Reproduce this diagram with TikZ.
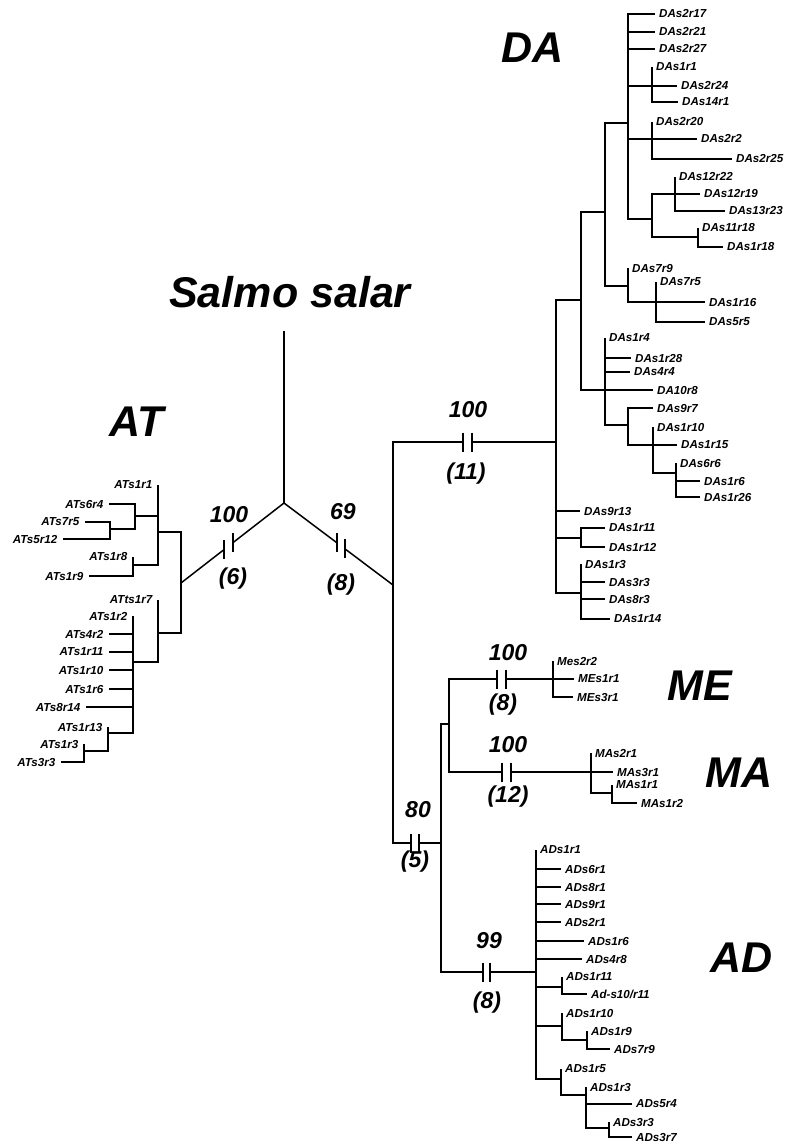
\documentclass[tikz,border=0pt]{standalone}
\usepackage{fontspec}
\setmainfont{Liberation Sans}
\usetikzlibrary{calc}
\newcommand\Clade[3]{\coordinate (#1) at (#2); \draw[br] (#3) |- (#1);}
\newcommand\LeafR[4]{\coordinate (#1) at (#2); \draw[br] (#3) |- (#1); \node[lfr] (#1l) at (#1) {#4};}
\newcommand\LeafL[4]{\coordinate (#1) at (#2); \draw[br] (#3) |- (#1); \node[lfl] (#1l) at (#1) {#4};}
\newcommand\Brk[1]{\draw[br] (#1) ++(0,-9.5) -- ++(0,19);}
\begin{document}
\begin{tikzpicture}[x=1pt,y=-1pt,
  br/.style={line width=1.5pt},
  lfr/.style={anchor=west,inner sep=0pt,xshift=4pt,font=\fontsize{11.6}{12}\selectfont\bfseries\itshape},
  lfl/.style={anchor=east,inner sep=0pt,xshift=-5.5pt,font=\fontsize{11.6}{12}\selectfont\bfseries\itshape},
  bs/.style={inner sep=0pt,font=\fontsize{23}{25}\selectfont\bfseries\itshape},
  big/.style={inner sep=0pt,font=\fontsize{43}{45}\selectfont\bfseries\itshape}]
\useasboundingbox (0,0) rectangle (785,1144);

% ---- root ----
\coordinate (root) at (284,503);
\coordinate (sstop) at (284,331);
\draw[br] (root) -- (sstop);
\node[big] (sslab) at (290,292) {Salmo salar};

% ---- AT branch ----
\coordinate (rAT) at (181,583);
\path (root) -- (rAT) coordinate[pos=0.495] (atb1) coordinate[pos=0.583] (atb2);
\draw[br] (root) -- (atb1); \draw[br] (atb2) -- (rAT);
\Brk{atb1}\Brk{atb2}
\node[bs] (bsAT) at (229,515) {100};
\node[bs] (chAT) at (233,579) {(6)};

% ---- right branch ----
\coordinate (n1) at (393,585);
\path (root) -- (n1) coordinate[pos=0.486] (rb1) coordinate[pos=0.56] (rb2);
\draw[br] (root) -- (rb1); \draw[br] (rb2) -- (n1);
\Brk{rb1}\Brk{rb2}
\node[bs] (bsR) at (343,512) {69};
\node[bs] (chR) at (341,585) {(8)};

% ---- DA branch ----
\coordinate (dab1) at (463,442); \coordinate (dab2) at (472,442);
\coordinate (rDA) at (556,442);
\draw[br] (n1) |- (dab1); \draw[br] (dab2) -- (rDA);
\Brk{dab1}\Brk{dab2}
\node[bs] (bsDA) at (468,410) {100};
\node[bs] (chDA) at (466,474) {(11)};

% ---- 80 branch ----
\coordinate (b80a) at (411,843); \coordinate (b80b) at (419,843);
\coordinate (n80) at (441,843);
\draw[br] (n1) |- (b80a); \draw[br] (b80b) -- (n80);
\Brk{b80a}\Brk{b80b}
\node[bs] (bs80) at (418,810) {80};
\node[bs] (ch80) at (415,862) {(5)};

\Clade{nmm}{449,724}{n80}
% ME
\coordinate (me1) at (497,679); \coordinate (me2) at (506,679);
\coordinate (rME) at (553,679);
\draw[br] (nmm) |- (me1); \draw[br] (me2) -- (rME);
\Brk{me1}\Brk{me2}
\node[bs] (bsME) at (508,653) {100};
\node[bs] (chME) at (503,705) {(8)};
% MA
\coordinate (ma1) at (502,772); \coordinate (ma2) at (511,772);
\coordinate (rMA) at (591,772);
\draw[br] (nmm) |- (ma1); \draw[br] (ma2) -- (rMA);
\Brk{ma1}\Brk{ma2}
\node[bs] (bsMA) at (508,745) {100};
\node[bs] (chMA) at (508,797) {(12)};
% AD
\coordinate (ad1) at (483,972); \coordinate (ad2) at (490,972);
\coordinate (rAD) at (536,972);
\draw[br] (n80) |- (ad1); \draw[br] (ad2) -- (rAD);
\Brk{ad1}\Brk{ad2}
\node[bs] (bsAD) at (489,941) {99};
\node[bs] (chAD) at (487,1003) {(8)};

% ---- group labels ----
\node[big] (gDA) at (533,48) {DA};
\node[big] (gAT) at (137,422) {AT};
\node[big] (gME) at (700,686) {ME};
\node[big] (gMA) at (739,773) {MA};
\node[big] (gAD) at (742,958) {AD};

% ---- AT clade ----
\Clade{atH}{158,532}{rAT}
\LeafL{ATs1r1}{158,485}{atH}{ATs1r1}
\Clade{atI}{135,516}{atH}
\LeafL{ATs6r4}{109,504}{atI}{ATs6r4}
\Clade{atJ}{110,529}{atI}
\LeafL{ATs7r5}{85,522}{atJ}{ATs7r5}
\LeafL{ATs5r12}{63,539}{atJ}{ATs5r12}
\Clade{atK}{133,565}{atH}
\LeafL{ATs1r8}{133,557}{atK}{ATs1r8}
\LeafL{ATs1r9}{89,576}{atK}{ATs1r9}
\Clade{atL}{158,633}{rAT}
\LeafL{ATts1r7}{158,600}{atL}{ATts1r7}
\Clade{atM}{133,662}{atL}
\LeafL{ATs1r2}{133,616}{atM}{ATs1r2}
\LeafL{ATs4r2}{109,634}{atM}{ATs4r2}
\LeafL{ATs1r11}{109,652}{atM}{ATs1r11}
\LeafL{ATs1r10}{109,670}{atM}{ATs1r10}
\LeafL{ATs1r6}{109,689}{atM}{ATs1r6}
\LeafL{ATs8r14}{86,707}{atM}{ATs8r14}
\Clade{atN}{108,733}{atM}
\LeafL{ATs1r13}{108,727}{atN}{ATs1r13}
\Clade{atO}{84,751}{atN}
\LeafL{ATs1r3}{84,744}{atO}{ATs1r3}
\LeafL{ATs3r3}{61,762}{atO}{ATs3r3}

% ---- DA clade ----
\Clade{daC}{581,300}{rDA}
\LeafR{DAs9r13}{580,511}{rDA}{DAs9r13}
\Clade{daP}{581,538}{rDA}
\LeafR{DAs1r11}{605,528}{daP}{DAs1r11}
\LeafR{DAs1r12}{605,547}{daP}{DAs1r12}
\Clade{daQ}{581,593}{rDA}
\LeafR{DAs1r3}{581,564}{daQ}{DAs1r3}
\LeafR{DAs3r3}{605,582}{daQ}{DAs3r3}
\LeafR{DAs8r3}{605,599}{daQ}{DAs8r3}
\LeafR{DAs1r14}{610,619}{daQ}{DAs1r14}
\Clade{daB}{605,212}{daC}
\Clade{daA}{628,123}{daB}
\LeafR{DAs2r17}{655,14}{daA}{DAs2r17}
\LeafR{DAs2r21}{655,32}{daA}{DAs2r21}
\LeafR{DAs2r27}{655,49}{daA}{DAs2r27}
\Clade{daS}{652,86}{daA}
\LeafR{DAs1r1}{652,67}{daS}{DAs1r1}
\LeafR{DAs2r24}{677,86}{daS}{DAs2r24}
\LeafR{DAs14r1}{678,102}{daS}{DAs14r1}
\Clade{daT}{652,139}{daA}
\LeafR{DAs2r20}{652,122}{daT}{DAs2r20}
\LeafR{DAs2r2}{697,139}{daT}{DAs2r2}
\LeafR{DAs2r25}{732,159}{daT}{DAs2r25}
\Clade{daU}{652,219}{daA}
\Clade{daV}{675,194}{daU}
\LeafR{DAs12r22}{675,177}{daV}{DAs12r22}
\LeafR{DAs12r19}{700,194}{daV}{DAs12r19}
\LeafR{DAs13r23}{725,211}{daV}{DAs13r23}
\Clade{daW}{698,237}{daU}
\LeafR{DAs11r18}{698,228}{daW}{DAs11r18}
\LeafR{DAs1r18}{723,247}{daW}{DAs1r18}
\Clade{daR}{628,286}{daB}
\LeafR{DAs7r9}{628,268}{daR}{DAs7r9}
\Clade{daX}{656,302}{daR}
\LeafR{DAs7r5}{656,282}{daX}{DAs7r5}
\LeafR{DAs1r16}{705,302}{daX}{DAs1r16}
\LeafR{DAs5r5}{705,322}{daX}{DAs5r5}
\Clade{daD}{605,390}{daC}
\LeafR{DAs1r4}{605,338}{daD}{DAs1r4}
\LeafR{DAs1r28}{631,358}{daD}{DAs1r28}
\LeafR{DAs4r4}{630,372}{daD}{DAs4r4}
\LeafR{DA10r8}{653,390}{daD}{DA10r8}
\Clade{daE}{628,425}{daD}
\LeafR{DAs9r7}{653,408}{daE}{DAs9r7}
\Clade{daF}{653,445}{daE}
\LeafR{DAs1r10}{653,427}{daF}{DAs1r10}
\LeafR{DAs1r15}{677,445}{daF}{DAs1r15}
\Clade{daG}{676,473}{daF}
\LeafR{DAs6r6}{676,463}{daG}{DAs6r6}
\LeafR{DAs1r6}{700,481}{daG}{DAs1r6}
\LeafR{DAs1r26}{700,497}{daG}{DAs1r26}

% ---- ME clade ----
\LeafR{Mes2r2}{553,661}{rME}{Mes2r2}
\LeafR{MEs1r1}{574,679}{rME}{MEs1r1}
\LeafR{MEs3r1}{573,697}{rME}{MEs3r1}

% ---- MA clade ----
\LeafR{MAs2r1}{591,753}{rMA}{MAs2r1}
\LeafR{MAs3r1}{613,772}{rMA}{MAs3r1}
\Clade{maY}{612,793}{rMA}
\LeafR{MAs1r1}{612,785}{maY}{MAs1r1}
\LeafR{MAs1r2}{637,803}{maY}{MAs1r2}

% ---- AD clade ----
\LeafR{ADs1r1}{536,850}{rAD}{ADs1r1}
\LeafR{ADs6r1}{561,869}{rAD}{ADs6r1}
\LeafR{ADs8r1}{561,887}{rAD}{ADs8r1}
\LeafR{ADs9r1}{561,904}{rAD}{ADs9r1}
\LeafR{ADs2r1}{561,922}{rAD}{ADs2r1}
\LeafR{ADs1r6}{584,941}{rAD}{ADs1r6}
\LeafR{ADs4r8}{582,959}{rAD}{ADs4r8}
\Clade{adZa}{562,987}{rAD}
\LeafR{ADs1r11}{562,977}{adZa}{ADs1r11}
\LeafR{ADs10r11}{587,994}{adZa}{Ad-s10/r11}
\Clade{adZb}{562,1026}{rAD}
\LeafR{ADs1r10}{562,1013}{adZb}{ADs1r10}
\Clade{adZd}{587,1040}{adZb}
\LeafR{ADs1r9}{587,1031}{adZd}{ADs1r9}
\LeafR{ADs7r9}{610,1049}{adZd}{ADs7r9}
\Clade{adZc}{561,1079}{rAD}
\LeafR{ADs1r5}{561,1069}{adZc}{ADs1r5}
\Clade{adZe}{586,1095}{adZc}
\LeafR{ADs1r3}{586,1087}{adZe}{ADs1r3}
\LeafR{ADs5r4}{632,1104}{adZe}{ADs5r4}
\Clade{adZf}{609,1128}{adZe}
\LeafR{ADs3r3}{609,1122}{adZf}{ADs3r3}
\LeafR{ADs3r7}{632,1137}{adZf}{ADs3r7}
\end{tikzpicture}
\end{document}
